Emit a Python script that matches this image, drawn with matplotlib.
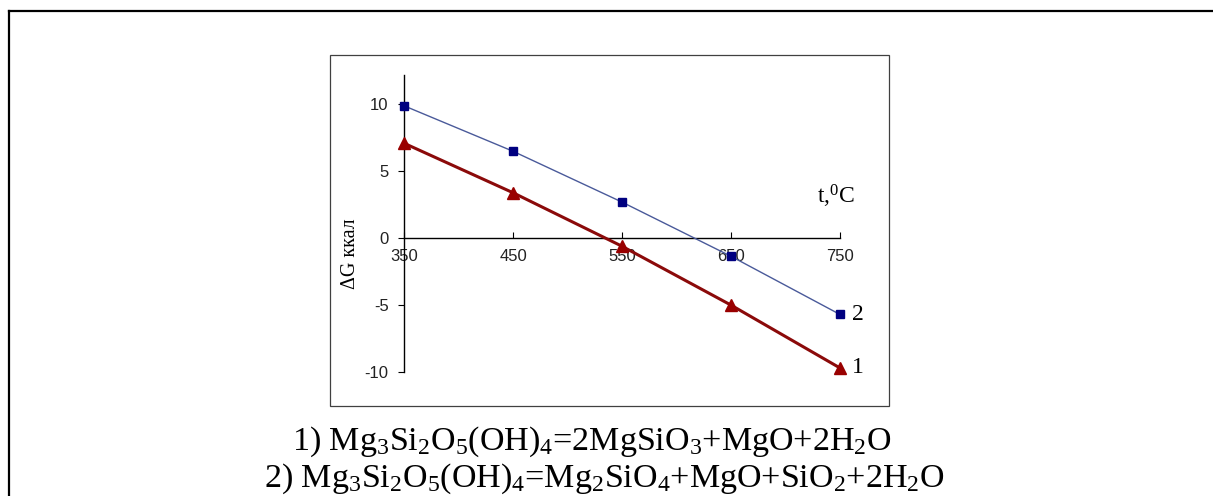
import matplotlib
matplotlib.use('Agg')
import matplotlib.pyplot as plt
from matplotlib.lines import Line2D
from matplotlib.patches import Rectangle

# data
temps = [350, 450, 550, 650, 750]
dg_reaction1 = [7.1, 3.4, -0.6, -5.0, -9.7]
dg_reaction2 = [9.9, 6.5, 2.7, -1.35, -5.7]
yticks = [-10, -5, 0, 5, 10]

eq1 = '1) Mg$_3$Si$_2$O$_5$(OH)$_4$=2MgSiO$_3$+MgO+2H$_2$O'
eq2 = '2) Mg$_3$Si$_2$O$_5$(OH)$_4$=Mg$_2$SiO$_4$+MgO+SiO$_2$+2H$_2$O'

plt.rcParams['mathtext.fontset'] = 'custom'
plt.rcParams['mathtext.rm'] = 'Liberation Serif'
plt.rcParams['mathtext.it'] = 'Liberation Serif:italic'
plt.rcParams['axes.unicode_minus'] = False

W, H = 1213, 496
fig = plt.figure(figsize=(W / 100, H / 100), dpi=100)

# outer frame (only top and left edges visible)
fig.add_artist(Line2D([9 / W, 9 / W], [0, 1 - 11 / H], transform=fig.transFigure,
                      color='black', lw=1.6))
fig.add_artist(Line2D([9 / W, 1], [1 - 11 / H, 1 - 11 / H], transform=fig.transFigure,
                      color='black', lw=1.6))

# chart area box
fig.add_artist(Rectangle((330 / W, 1 - 406 / H), (889 - 330) / W, (406 - 55) / H,
                         transform=fig.transFigure, fill=False, ec='#404040', lw=0.9))

ax = fig.add_axes([404 / W, 124 / H, 436 / W, 297 / H])
ax.patch.set_alpha(0)

ax.plot(temps, dg_reaction2, color='#4a5a9a', lw=1.0, marker='s', ms=6,
        mfc='#000080', mec='#000080', clip_on=False, zorder=3)
ax.plot(temps, dg_reaction1, color='#8b0a0a', lw=2.2, marker='^', ms=8,
        mfc='#990000', mec='#990000', clip_on=False, zorder=3)

ax.set_xlim(350, 750)
ax.set_ylim(-10, 12.2)
ax.set_xticks(temps)
ax.set_yticks(yticks)

for s in ['top', 'right']:
    ax.spines[s].set_visible(False)
ax.spines['bottom'].set_position(('data', 0))
for s in ['bottom', 'left']:
    ax.spines[s].set_linewidth(1.0)

ax.tick_params(axis='x', direction='in', length=4, pad=8, labelsize=12)
ax.tick_params(axis='y', direction='out', length=4, pad=7, labelsize=12)
for lab in ax.get_xticklabels() + ax.get_yticklabels():
    lab.set_fontfamily('Liberation Sans')
    lab.set_color('#222222')

ax.set_ylabel('ΔG ккал', fontsize=14.5, family='Liberation Serif')
ax.yaxis.set_label_coords(-0.10, 0.40)

ax.annotate('t,$^0$C', xy=(1.0, 0), xycoords=('axes fraction', 'data'),
            xytext=(-3, 30), textcoords='offset points', ha='center', va='center',
            fontsize=17, family='Liberation Serif')

ax.annotate('2', xy=(temps[-1], dg_reaction2[-1]), xytext=(13, 0),
            textcoords='offset points', ha='center', va='center',
            fontsize=17, family='Liberation Serif')
ax.annotate('1', xy=(temps[-1], dg_reaction1[-1]), xytext=(13, 0),
            textcoords='offset points', ha='center', va='center',
            fontsize=17, family='Liberation Serif')

# reaction equations under the chart
fig.text(592 / W, 1 - 450 / H, eq1, ha='center', va='baseline', fontsize=24.5,
         family='Liberation Serif')
fig.text(604 / W, 1 - 487 / H, eq2, ha='center', va='baseline', fontsize=24.5,
         family='Liberation Serif')

fig.savefig('out.png', dpi=100)
